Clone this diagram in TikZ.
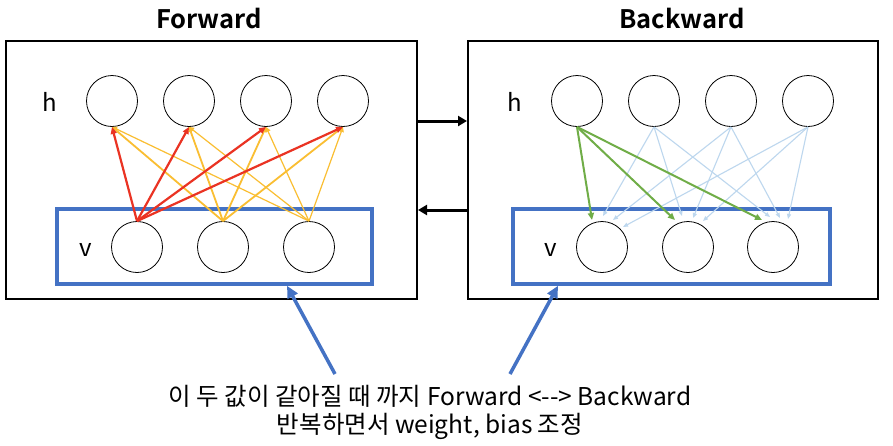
\documentclass[tikz,border=0pt]{standalone}
\usepackage{fontspec}
\setmainfont{Noto Sans CJK KR}[BoldFont={Noto Sans CJK KR Bold}]
\usetikzlibrary{arrows.meta}
\definecolor{myred}{RGB}{234,51,35}
\definecolor{myyellow}{RGB}{250,190,50}
\definecolor{mygreen}{RGB}{112,173,71}
\definecolor{mylightblue}{RGB}{189,215,238}
\definecolor{myblue}{RGB}{68,114,196}
\begin{document}
\begin{tikzpicture}[x=1pt,y=-1pt,
  neuron/.style={circle, draw, line width=0.8pt, minimum size=51pt, inner sep=0pt},
  panel/.style={draw, line width=2pt, minimum height=258pt, inner sep=0pt},
  vbox/.style={draw=myblue, line width=3.5pt, minimum height=75pt, inner sep=0pt},
  title/.style={font=\fontsize{25.5}{30}\selectfont\bfseries},
  lbl/.style={font=\fontsize{24}{28}\selectfont},
  redarr/.style={draw=myred, line width=2.2pt, -{Triangle[length=7pt,width=6pt]}},
  yelarr/.style={draw=myyellow, -{Triangle[length=5pt,width=5pt]}},
  grnarr/.style={draw=mygreen, line width=2pt, -{Triangle[length=7pt,width=6pt]}},
  lbarr/.style={draw=mylightblue, line width=1.1pt, -{Triangle[length=5pt,width=4pt]}},
  linkarr/.style={line width=3pt, -{Triangle[length=9pt,width=10pt]}},
  bluearr/.style={draw=myblue, line width=3.5pt, -{Triangle[length=12pt,width=11pt]}},
]
\useasboundingbox (0,0) rectangle (893,445);
\fill[white] (0,0) rectangle (893,445);

% titles
\node[title] (tF) at (209,19) {Forward};
\node[title] (tB) at (682,19) {Backward};

% panels
\node[panel, minimum width=411pt] (LP) at (211.5,170) {};
\node[panel, minimum width=410pt] (RP) at (673,170) {};
\node[vbox, minimum width=315pt] (LV) at (214.5,246.5) {};
\node[vbox, minimum width=317pt] (RV) at (671.5,246.5) {};

% left neurons
\node[lbl] (lh) at (49.5,102) {h};
\node[lbl] (lv) at (85.5,250) {v};
\node[neuron] (Lh1) at (112,101) {};
\node[neuron] (Lh2) at (189,101) {};
\node[neuron] (Lh3) at (266,101) {};
\node[neuron] (Lh4) at (343,101) {};
\node[neuron] (Lv1) at (137,247) {};
\node[neuron] (Lv2) at (223,247) {};
\node[neuron] (Lv3) at (309,247) {};

% right neurons
\node[lbl] (rh) at (514.5,102) {h};
\node[lbl] (rv) at (550.5,250) {v};
\node[neuron] (Rh1) at (577,101) {};
\node[neuron] (Rh2) at (654,101) {};
\node[neuron] (Rh3) at (731,101) {};
\node[neuron] (Rh4) at (808,101) {};
\node[neuron] (Rv1) at (602,247) {};
\node[neuron] (Rv2) at (688,247) {};
\node[neuron] (Rv3) at (773,247) {};

% forward connections
\foreach \j in {1,2,3,4} {
  \draw[yelarr, line width=1.2pt] (Lv3.north) -- (Lh\j.south);
  \draw[yelarr, line width=1.8pt] (Lv2.north) -- (Lh\j.south);
}
\foreach \j in {1,2,3,4} {
  \draw[redarr] (Lv1.north) -- (Lh\j.south);
}

% backward target points
\coordinate (e11) at (592,220); \coordinate (e12) at (603,216);
\coordinate (e13) at (613,220); \coordinate (e14) at (623,227);
\coordinate (e21) at (675,220); \coordinate (e22) at (682,216);
\coordinate (e23) at (693,218); \coordinate (e24) at (703,221);
\coordinate (e31) at (762,220); \coordinate (e32) at (770,217);
\coordinate (e33) at (780,218); \coordinate (e34) at (788,219);
\foreach \j in {2,3,4} {
  \foreach \i in {1,2,3} {
    \draw[lbarr] (Rh\j.south) -- (e\i\j);
  }
}
\foreach \i in {1,2,3} {
  \draw[grnarr] (Rh1.south) -- (e\i1);
}

% links between panels
\coordinate (ya) at (0,121);
\coordinate (yb) at (0,210);
\draw[linkarr] (LP.east |- ya) -- (RP.west |- ya);
\draw[linkarr] (RP.west |- yb) -- (LP.east |- yb);

% caption
\node[font=\fontsize{24.5}{28}\selectfont, align=center] (cap) at (430,412)
  {이 두 값이 같아질 때 까지 Forward <-{}-> Backward\\반복하면서 weight, bias 조정};

% blue arrows
\coordinate (sa) at (335,374);
\coordinate (sb) at (510,374);
\draw[bluearr] (sa) -- (LV.south -| 287,0);
\draw[bluearr] (sb) -- (RV.south -| 558,0);
\end{tikzpicture}
\end{document}
